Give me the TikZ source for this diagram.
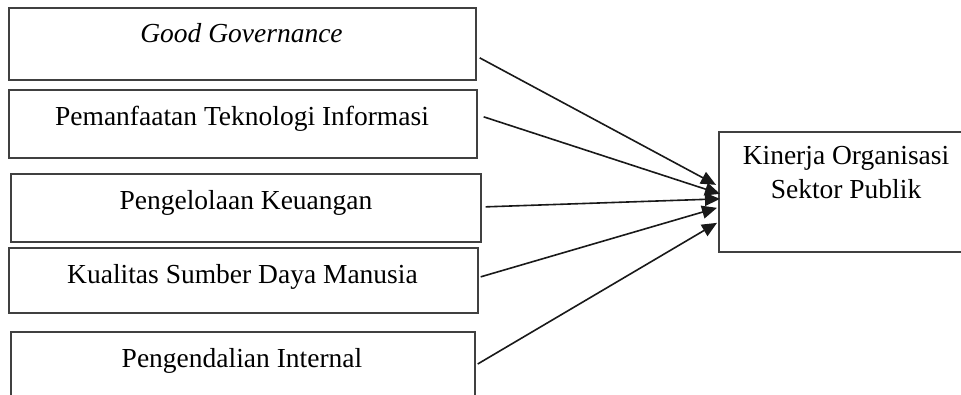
\documentclass[tikz,border=0pt]{standalone}
\usepackage{fontspec}
\setmainfont{Liberation Serif}
\usetikzlibrary{arrows.meta}
\begin{document}
\begin{tikzpicture}[x=1pt,y=-1pt,
  box/.style={draw=black!75,line width=1.7pt,rectangle,inner sep=0pt,anchor=north west},
  lbl/.style={anchor=base,inner sep=0pt,font=\fontsize{27.5}{34}\selectfont},
  conn/.style={line width=1.6pt,draw=black!90,-{Triangle[length=15pt,width=13pt]}}]
\useasboundingbox (0,0) rectangle (961,395);
\clip (0,0) rectangle (961,395);
\fill[white] (0,0) rectangle (961,395);
% boxes
\node[box,minimum width=467pt,minimum height=72pt] (b1) at (8,7) {};
\node[box,minimum width=468pt,minimum height=68pt] (b2) at (8,89) {};
\node[box,minimum width=470pt,minimum height=68pt] (b3) at (10,173) {};
\node[box,minimum width=469pt,minimum height=65pt] (b4) at (8,247) {};
\node[box,minimum width=464pt,minimum height=95pt] (b5) at (10,331) {};
\node[box,minimum width=256pt,minimum height=120pt] (r) at (718,131) {};
% texts
\node[lbl] (t1) at (241.5,43) {\textit{Good Governance}};
\node[lbl] (t2) at (242,125.5) {Pemanfaatan Teknologi Informasi};
\node[lbl] (t3) at (246,209.5) {Pengelolaan Keuangan};
\node[lbl] (t4) at (242.5,283.5) {Kualitas Sumber Daya Manusia};
\node[lbl] (t5) at (242,367.5) {Pengendalian Internal};
\node[lbl,align=center] (tr) at (846,199) {Kinerja Organisasi\\Sektor Publik};
% connectors
\coordinate (s1) at ([shift={(3,14)}]b1.east);
\coordinate (s2) at ([shift={(6,-7)}]b2.east);
\coordinate (s3) at ([shift={(4,-1)}]b3.east);
\coordinate (s4) at ([shift={(2,-3.5)}]b4.east);
\coordinate (s5) at ([shift={(2,33)}]b5.north east);
\draw[conn] (s1) -- ([shift={(-2,-7)}]r.west);
\draw[conn] (s2) -- ([shift={(2,2)}]r.west);
\draw[conn] (s3) -- ([shift={(2,7)}]r.west);
\draw[conn] (s4) -- ([shift={(-1,16)}]r.west);
\draw[conn] (s5) -- ([shift={(-1,31)}]r.west);
\end{tikzpicture}
\end{document}
